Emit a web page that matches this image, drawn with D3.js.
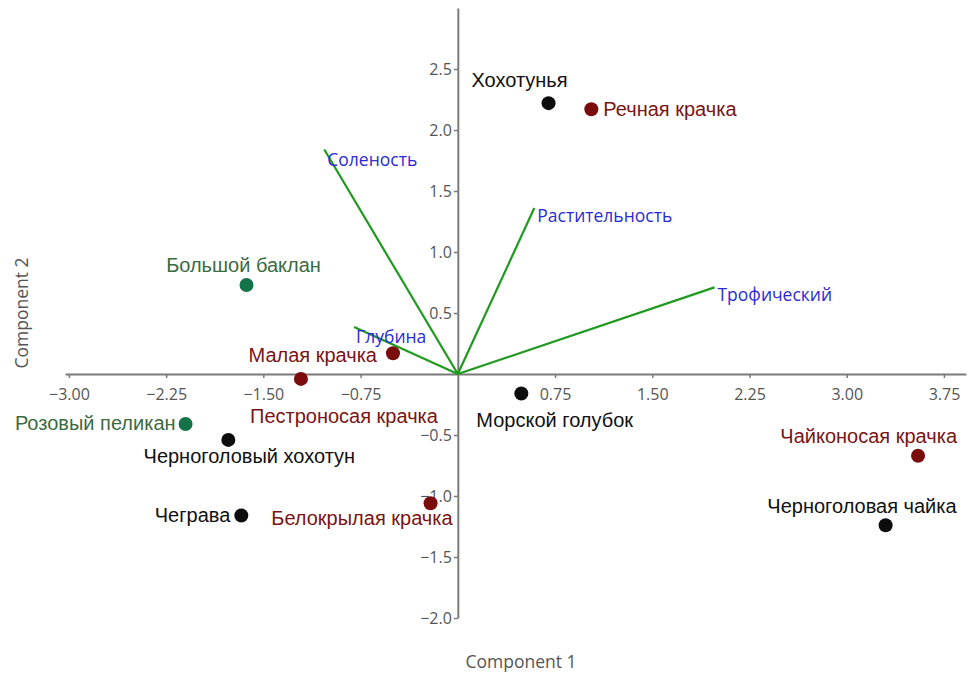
<!DOCTYPE html>
<html>
<head>
<meta charset="utf-8">
<script src="https://cdn.jsdelivr.net/npm/d3@7/dist/d3.min.js"></script>
<style>
  html, body { margin: 0; padding: 0; background: #fff; }
  svg { display: block; }
</style>
</head>
<body>
<svg id="chart" width="968" height="675"></svg>
<script>
// ---- data ----
const speciesNames = ["Хохотунья", "Речная крачка", "Большой баклан", "Малая крачка",
  "Пестроносая крачка", "Розовый пеликан", "Черноголовый хохотун", "Чеграва",
  "Белокрылая крачка", "Морской голубок", "Чайконосая крачка", "Черноголовая чайка"];
const component1 = [0.70, 1.03, -1.63, -0.50, -1.21, -2.10, -1.77, -1.67, -0.21, 0.49, 3.55, 3.30];
const component2 = [2.22, 2.17, 0.73, 0.17, -0.04, -0.41, -0.54, -1.16, -1.06, -0.16, -0.67, -1.24];
const speciesGroup = ["gull", "tern", "pelecan", "tern", "tern", "pelecan", "gull", "gull",
  "tern", "gull", "tern", "gull"];

const factorNames = ["Соленость", "Растительность", "Трофический", "Глубина"];
const factorC1 = [-1.03, 0.59, 1.98, -0.80];
const factorC2 = [1.84, 1.36, 0.71, 0.385];

const xTicks = [-3.00, -2.25, -1.50, -0.75, 0.75, 1.50, 2.25, 3.00, 3.75];
const yTicks = [-2.0, -1.5, -1.0, -0.5, 0.5, 1.0, 1.5, 2.0, 2.5];

// ---- styling / layout (not data) ----
const groupColor = { gull: "#0d0d0d", tern: "#7a0c0c", pelecan: "#13744a" };
const groupTextColor = { gull: "#111111", tern: "#7a1414", pelecan: "#3b6b3f" };
// label placement relative to point: [anchor, dx, dy]
const labelPlace = [
  ["middle", -29, -16], ["start", 12, 7], ["middle", -3, -13], ["end", -16, 9],
  ["middle", 43, 44], ["end", -10, 6], ["middle", 21, 23], ["end", -11, 6],
  ["end", 22, 22], ["start", -45, 33], ["end", 39, -13], ["end", 71, -12]
];
const factorLabelPlace = [[3, 16], [3, 14], [3, 14], [2, 16]];

const svg = d3.select("#chart");
const x = d3.scaleLinear().domain([-3.03, 3.92]).range([65, 966]);
const y = d3.scaleLinear().domain([-2, 3]).range([618, 8]);

const axisColor = "#7a7a7a";
const tickTextColor = "#555";
const tickFont = "'Open Sans', 'Noto Sans', sans-serif";

// x axis through y=0
const gx = svg.append("g").attr("transform", `translate(0,${y(0)})`)
  .call(d3.axisBottom(x).tickValues(xTicks).tickFormat(d3.format(".2f")).tickSizeInner(4).tickSizeOuter(0).tickPadding(11));
gx.select(".domain").attr("stroke", axisColor).attr("stroke-width", 2);
gx.selectAll(".tick line").attr("stroke", axisColor).attr("stroke-width", 1.5);
gx.selectAll(".tick text").attr("fill", tickTextColor).style("font-family", tickFont).style("font-size", "16px");

// y axis through x=0
const gy = svg.append("g").attr("transform", `translate(${x(0)},0)`)
  .call(d3.axisLeft(y).tickValues(yTicks).tickFormat(d3.format(".1f")).tickSizeInner(4).tickSizeOuter(0).tickPadding(2));
gy.select(".domain").attr("stroke", axisColor).attr("stroke-width", 2);
gy.selectAll(".tick line").attr("stroke", axisColor).attr("stroke-width", 1.5);
gy.selectAll(".tick text").attr("fill", tickTextColor).style("font-family", tickFont).style("font-size", "16px");

// axis titles
svg.append("text").attr("x", 521).attr("y", 668).attr("text-anchor", "middle")
  .attr("fill", "#555").style("font-family", tickFont).style("font-size", "17.5px").text("Component 1");
svg.append("text").attr("transform", `translate(28,313) rotate(-90)`).attr("text-anchor", "middle")
  .attr("fill", "#555").style("font-family", tickFont).style("font-size", "17.5px").text("Component 2");

// factor vectors
const factors = factorNames.map((n, i) => ({ name: n, c1: factorC1[i], c2: factorC2[i], p: factorLabelPlace[i] }));
svg.append("g").selectAll("line").data(factors).join("line")
  .attr("x1", x(0)).attr("y1", y(0))
  .attr("x2", d => x(d.c1)).attr("y2", d => y(d.c2))
  .attr("stroke", "#1f9a1f").attr("stroke-width", 2.2);
svg.append("g").selectAll("text").data(factors).join("text")
  .attr("x", d => x(d.c1) + d.p[0]).attr("y", d => y(d.c2) + d.p[1])
  .attr("fill", "#2b2bd6").style("font-family", tickFont).style("font-size", "17.5px")
  .text(d => d.name);

// species points
const species = speciesNames.map((n, i) => ({ name: n, c1: component1[i], c2: component2[i], g: speciesGroup[i], p: labelPlace[i] }));
svg.append("g").selectAll("circle").data(species).join("circle")
  .attr("cx", d => x(d.c1)).attr("cy", d => y(d.c2)).attr("r", 7)
  .attr("fill", d => groupColor[d.g]);
svg.append("g").selectAll("text").data(species).join("text")
  .attr("x", d => x(d.c1) + d.p[1]).attr("y", d => y(d.c2) + d.p[2])
  .attr("text-anchor", d => d.p[0])
  .attr("fill", d => groupTextColor[d.g])
  .style("font-family", "'Liberation Sans Narrow', 'Liberation Sans', Arial, sans-serif")
  .style("font-size", "20px")
  .text(d => d.name);
</script>
</body>
</html>
